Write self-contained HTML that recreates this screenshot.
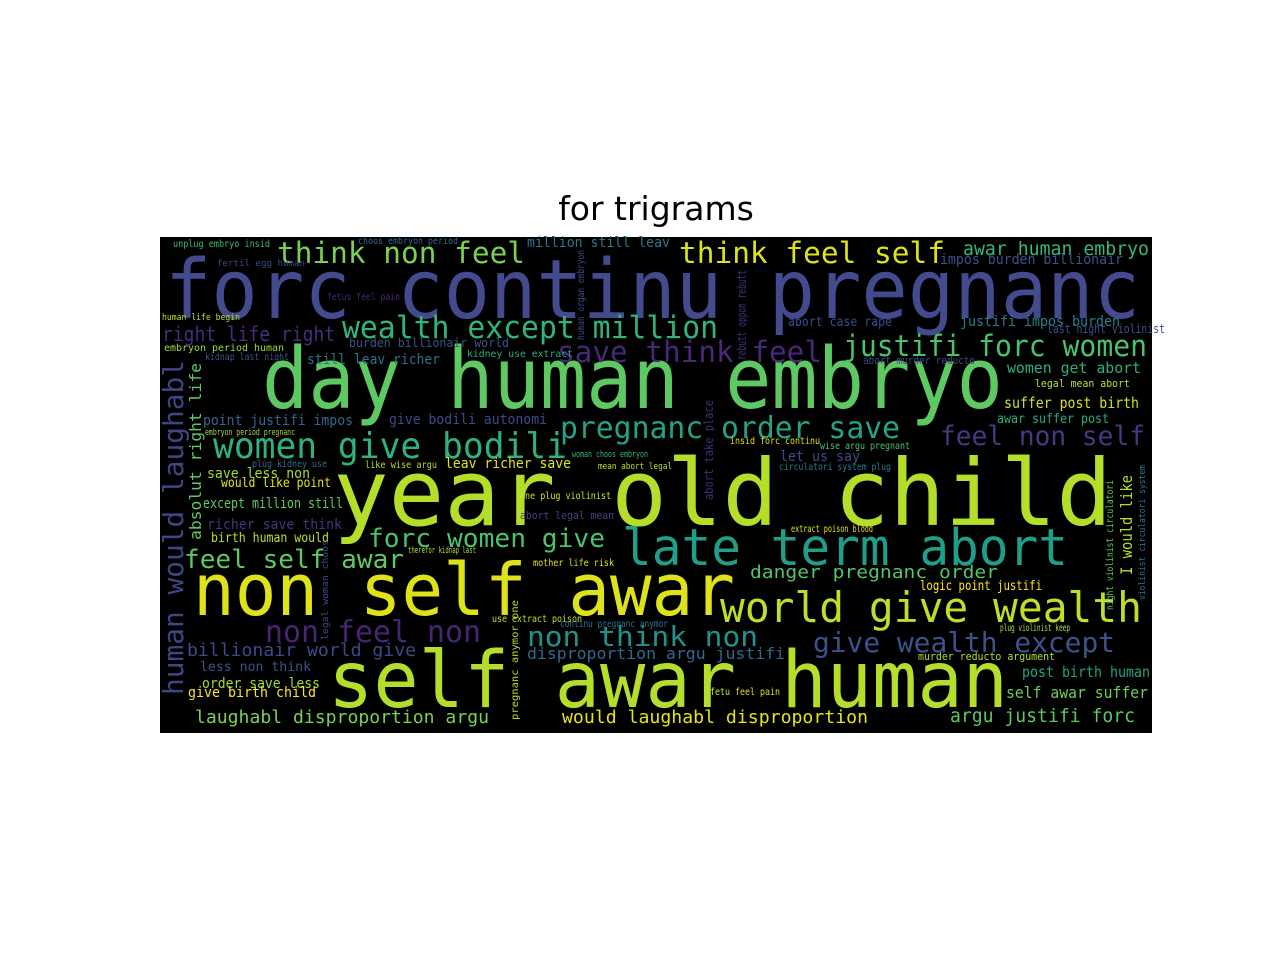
<!DOCTYPE html>
<html><head><meta charset="utf-8"><style>
html,body{margin:0;padding:0;background:#fff;width:1280px;height:960px;overflow:hidden;}
svg{display:block;}
</style></head><body>
<svg id="chart" width="1280" height="960" xmlns="http://www.w3.org/2000/svg">
<text x="656" y="220" text-anchor="middle" font-family="DejaVu Sans, Liberation Sans, sans-serif" font-size="33" fill="#000">for trigrams</text>
<rect x="160" y="237" width="992" height="496" fill="#000"/>
<g id="words" font-family="DejaVu Sans Mono, Liberation Mono, monospace"></g>
</svg>
<script>
// word, x, baseline y, font size, text width, colour, vertical flag
const words = ["forc continu pregnanc","day human embryo","year old child","non self awar","self awar human","late term abort","world give wealth","women give bodili","pregnanc order save","wealth except million","save think feel","justifi forc women","think non feel","think feel self","feel non self","forc women give","feel self awar","non feel non","non think non","give wealth except","right life right","awar human embryo","million still leav","impos burden billionair","abort case rape","justifi impos burden","women get abort","suffer post birth","awar suffer post","danger pregnanc order","logic point justifi","post birth human","self awar suffer","argu justifi forc","would laughabl disproportion","laughabl disproportion argu","disproportion argu justifi","billionair world give","less non think","order save less","give birth child","still leav richer","burden billionair world","embryon period human","point justifi impos","give bodili autonomi","kidnap last night","save less non","would like point","except million still","richer save think","birth human would","leav richer save","plug kidney use","let us say","mother life risk","abort legal mean","one plug violinist","use extract poison","therefor kidnap last","extract poison blood","legal mean abort","plug violinist keep","murder reducto argument","fetu feel pain","unplug embryo insid","choos embryon period","fetus feel pain","circulatori system plug","insid forc continu","wise argu pregnant","abort murder reducto","last night violinist","kidney use extract","fertil egg human","human life begin","embryon period pregnanc","like wise argu","woman choos embryon","mean abort legal","continu pregnanc anymor","human would laughabl","absolut right life","I would like","abort take place","rebutt oppon rebutt","pregnanc anymor one","human organ embryon","night violinist circulatori","violinist circulatori system","legal woman choos"];
const xs = [165,262,333,193,328,622,720,213,560,342,557,843,277,679,940,368,184,265,527,813,162,963,527,940,788,960,1007,1004,997,750,920,1022,1006,950,562,195,527,187,200,202,188,307,349,164,203,389,205,207,221,203,207,211,445,252,780,533,520,520,492,408,791,1035,1000,918,710,173,358,327,779,730,820,863,1047,467,217,162,205,365,572,598,560,183,201,1132,713,746,518,584,1113,1145,328];
const ys = [318,408,525,615,707,565,622,458,438,338,362,356,263,263,445,547,568,642,646,652,341,255,247,264,326,326,373,408,423,578,590,677,698,722,723,723,659,656,671,688,697,364,347,351,425,424,360,478,487,508,529,542,468,467,461,566,519,499,622,553,532,387,631,660,695,247,244,300,470,444,449,364,333,357,266,320,435,468,457,469,627,695,540,575,500,360,720,340,610,600,640];
const sizes = [82,85,92,72,78,51,42,36,30,31,29,29,29,29,27,26,26,30,28,28,20,19,14,14,13,14,15,15,13,18,13,15,16,19,18,18,16,18,13,14,14,14,12,10,14,14,10,14,13,14,14,13,14,10,14,10,11,10,10,9,10,11,10,11,10,10,10,10,10,10,10,11,12,10,9,9,9,10,9,9,10,28,16,16,12,12,10,10,10,9,9];
const widths = [975,741,779,542,680,446,422,354,340,376,265,304,248,266,205,237,220,216,231,302,173,186,143,183,104,160,134,135,112,248,122,128,142,185,306,294,258,229,111,118,128,133,160,120,150,158,84,103,110,140,135,118,126,75,80,81,94,91,90,68,82,95,70,137,70,97,100,73,112,90,90,112,118,106,88,78,90,72,76,74,108,335,177,100,100,90,120,90,130,135,100];
const colors = ["#434a8d","#5ec962","#b5de2b","#dde318","#b5de2b","#1f9e89","#bddf26","#2db27d","#25a185","#2fb47c","#482878","#4ac16d","#7ad151","#dde318","#443983","#4ac16d","#5ec962","#482475","#21918c","#3b528b","#472d7b","#35b779","#2a788e","#3b528b","#3e4a89","#277f8e","#2ab07f","#d0e11c","#26ad81","#52c569","#fde725","#20a386","#6ece58","#5ec962","#e5e419","#7ad151","#31688e","#3e4989","#3b528b","#a0da39","#fde725","#2c728e","#3b528b","#a0da39","#31688e","#3e4989","#3b528b","#a5db36","#e2e418","#5ec962","#46337f","#c2df23","#e5e419","#2e6e8e","#3e4a89","#dde318","#414487","#d8e219","#c5e021","#b5de2b","#e5e419","#c2df23","#a8db34","#b5de2b","#dde318","#35b779","#31688e","#482878","#2a788e","#d8e219","#4ac16d","#3e4a89","#3b528b","#2ab07f","#3e4989","#c2df23","#a0da39","#b5de2b","#35b779","#c2df23","#2a788e","#414487","#5ec962","#b5de2b","#472d7b","#46327e","#b5de2b","#3e4989","#5ec962","#2a788e","#3e4a89"];
const vertical = [0,0,0,0,0,0,0,0,0,0,0,0,0,0,0,0,0,0,0,0,0,0,0,0,0,0,0,0,0,0,0,0,0,0,0,0,0,0,0,0,0,0,0,0,0,0,0,0,0,0,0,0,0,0,0,0,0,0,0,0,0,0,0,0,0,0,0,0,0,0,0,0,0,0,0,0,0,0,0,0,0,1,1,1,1,1,1,1,1,1,1];

const g = document.getElementById('words');
const NS = 'http://www.w3.org/2000/svg';
for (let i = 0; i < words.length; i++) {
  const t = document.createElementNS(NS, 'text');
  t.textContent = words[i];
  t.setAttribute('font-size', sizes[i]);
  t.setAttribute('fill', colors[i]);
  t.setAttribute('textLength', widths[i]);
  t.setAttribute('lengthAdjust', 'spacingAndGlyphs');
  if (vertical[i]) {
    t.setAttribute('x', 0);
    t.setAttribute('y', 0);
    t.setAttribute('transform', 'translate(' + xs[i] + ',' + ys[i] + ') rotate(-90)');
  } else {
    t.setAttribute('x', xs[i]);
    t.setAttribute('y', ys[i]);
  }
  
  
  g.appendChild(t);
}
</script>
</body></html>
